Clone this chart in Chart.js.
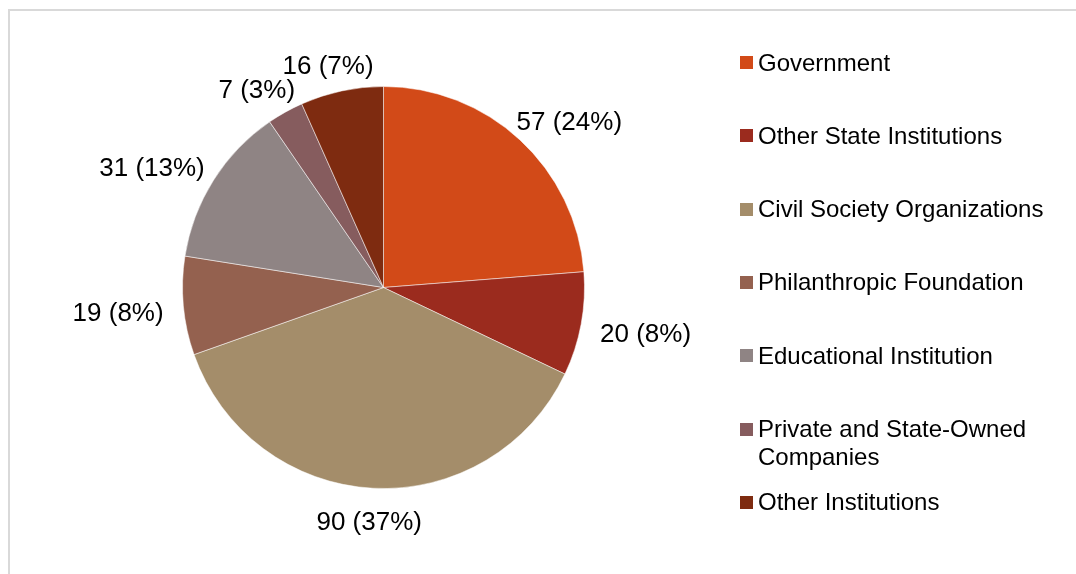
<!DOCTYPE html>
<html>
<head>
<meta charset="utf-8">
<script src="https://cdn.jsdelivr.net/npm/chart.js@4/dist/chart.umd.min.js"></script>
<style>
    html, body { margin: 0; padding: 0; background: #fff; overflow: hidden; }
    #wrap { position: relative; width: 1076px; height: 574px; }
    #frame {
        position: absolute; left: 8px; top: 9px; width: 1100px; height: 600px;
        border: 2px solid #d9d9d9; box-sizing: border-box;
    }
    #chart { position: absolute; left: 0; top: 0; }
    #legend {
        position: absolute; left: 740px; top: 48.5px; margin: 0; padding: 0; list-style: none;
        font-family: "Liberation Sans", Arial, sans-serif; font-size: 24px; line-height: 28px; color: #000;
    }
    #legend li { position: relative; height: 73.33px; padding-left: 18px; width: 300px; }
    #legend .box { position: absolute; left: 0; top: 7.5px; width: 13px; height: 13px; }
</style>
</head>
<body>
<div id="wrap">
    <div id="frame"></div>
    <canvas id="chart" width="1076" height="574"></canvas>
    <ul id="legend"></ul>
</div>
<script>
    const categories = ['Government', 'Other State Institutions', 'Civil Society Organizations',
        'Philanthropic Foundation', 'Educational Institution', 'Private and State-Owned Companies',
        'Other Institutions'];
    const counts = [57, 20, 90, 19, 31, 7, 16];
    const percents = [24, 8, 37, 8, 13, 3, 7];
    const colors = ['#d24a18', '#9b2b1e', '#a48d6a', '#94614f', '#8f8484', '#865c5e', '#7e2b10'];

    // --- Legend (HTML, so long names wrap like the original) ---
    const legendEl = document.getElementById('legend');
    categories.forEach((name, i) => {
        const li = document.createElement('li');
        const box = document.createElement('span');
        box.className = 'box';
        box.style.background = colors[i];
        li.appendChild(box);
        li.appendChild(document.createTextNode(name));
        legendEl.appendChild(li);
    });

    // --- Outside labels: "value (pct%)" placed beyond each slice edge ---
    const outsideLabels = {
        id: 'outsideLabels',
        afterDatasetsDraw(chart) {
            const ctx = chart.ctx;
            const arcs = chart.getDatasetMeta(0).data;
            ctx.save();
            ctx.font = '26px "Liberation Sans", Arial, sans-serif';
            ctx.fillStyle = '#000';
            ctx.textAlign = 'center';
            ctx.textBaseline = 'middle';
            const pad = 20, halfH = 10, shiftY = 5; // shiftY: digits sit low in the em box
            arcs.forEach((arc, i) => {
                const text = `${counts[i]} (${percents[i]}%)`;
                const mid = (arc.startAngle + arc.endAngle) / 2;
                const cos = Math.cos(mid), sin = Math.sin(mid);
                const halfW = ctx.measureText(text).width / 2;
                const r = arc.outerRadius + pad;
                const x = arc.x + cos * r + cos * halfW;
                const y = arc.y + sin * r + sin * halfH + shiftY;
                ctx.fillText(text, x, y);
            });
            ctx.restore();
        }
    };

    new Chart(document.getElementById('chart').getContext('2d'), {
        type: 'pie',
        data: {
            labels: categories,
            datasets: [{
                data: counts,
                backgroundColor: colors,
                borderColor: 'rgba(255,255,255,0.5)',
                borderWidth: 1
            }]
        },
        options: {
            responsive: false,
            animation: false,
            layout: { padding: { left: 182, right: 491, top: 86, bottom: 85 } },
            plugins: {
                legend: { display: false },
                tooltip: { enabled: false }
            }
        },
        plugins: [outsideLabels]
    });
</script>
</body>
</html>
